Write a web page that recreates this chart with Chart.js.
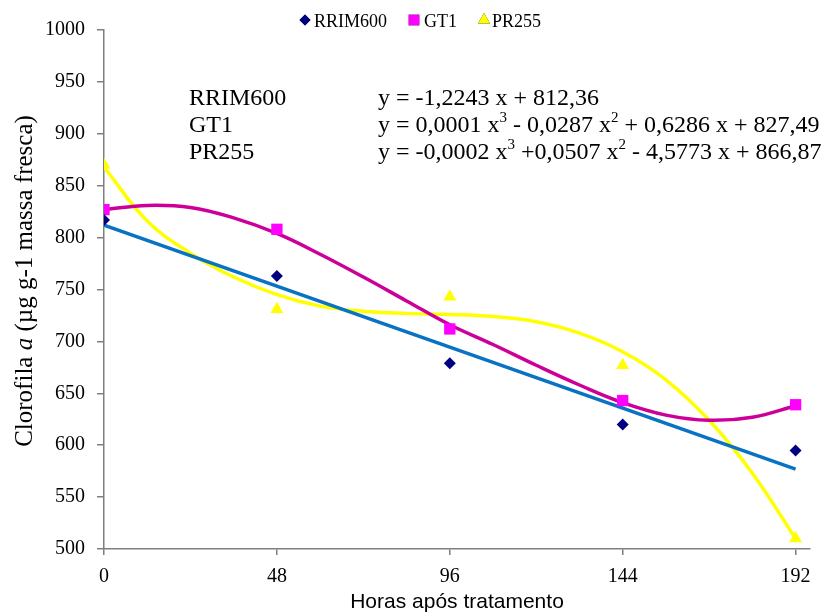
<!DOCTYPE html>
<html>
<head>
<meta charset="utf-8">
<script src="https://cdn.jsdelivr.net/npm/chart.js@4.4.1/dist/chart.umd.min.js"></script>
<style>
  html, body { margin: 0; padding: 0; background: #fff; }
  #wrap { width: 823px; height: 614px; position: relative; }
</style>
</head>
<body>
<div id="wrap"><canvas id="chart"></canvas></div>
<script>
// measured points
const hours = [0, 48, 96, 144, 192];
const rrim600 = [817, 763, 679, 620, 595];
const gt1 = [827, 808, 712, 643, 639];
const pr255 = [870, 731, 743, 677, 510];

// trend lines
const rrimTrendHours = [0, 192];
const rrimTrend = [812, 577];
const trendHours = [0, 12, 24, 36, 48, 60, 72, 84, 96, 108, 120, 132, 144, 156, 168, 180, 192];
const gt1Trend = [827, 831, 829, 819, 804, 784, 762, 739, 716, 697, 677, 658, 641, 629, 624, 627, 638];
const pr255Trend = [868, 816, 785, 762, 745, 734, 729, 727, 726, 724, 719, 708, 690, 663, 624, 573, 510];

const xTicks = [0, 48, 96, 144, 192];

const seriesNames = ["RRIM600", "GT1", "PR255"];
const markerColors = ["#000080", "#FF00FF", "#FFFF00"];
const markerStyles = ["rectRot", "rect", "triangle"];

const serif = "'Liberation Serif', 'Times New Roman', serif";

function pts(xs, ys) {
    return xs.map((x, i) => ({ x: x, y: ys[i] }));
}

//Legend, axis titles and the equations
const extras = {
    id: "extras",
    afterDraw(chart) {
        const ctx = chart.ctx;
        ctx.save();

        // legend
        ctx.font = "18px " + serif;
        ctx.fillStyle = "#000";
        ctx.textBaseline = "alphabetic";
        const items = [
            { mx: 305, tx: 314, r: 5.5 },
            { mx: 414, tx: 424, r: 7.5 },
            { mx: 484, tx: 492, r: 7 }
        ];
        items.forEach((it, i) => {
            Chart.helpers.drawPoint(ctx, {
                pointStyle: markerStyles[i],
                radius: it.r,
                rotation: 0,
                borderWidth: 0
            }, it.mx, 20);
            ctx.fillStyle = markerColors[i];
            ctx.fill();
            ctx.fillStyle = "#000";
            ctx.fillText(seriesNames[i], it.tx, 27);
        });

        // x title
        ctx.font = "21px 'Liberation Sans', Arial, sans-serif";
        ctx.textAlign = "center";
        ctx.textBaseline = "middle";
        ctx.fillText("Horas após tratamento", 457, 602);

        // y title with italic a
        ctx.translate(25, 281);
        ctx.rotate(-Math.PI / 2);
        const parts = [
            ["Clorofila ", "25px " + serif],
            ["a", "italic 25px " + serif],
            [" (µg g-1 massa fresca)", "25px " + serif]
        ];
        let total = 0;
        parts.forEach(p => { ctx.font = p[1]; total += ctx.measureText(p[0]).width; });
        let cx = -total / 2;
        ctx.textAlign = "left";
        parts.forEach(p => {
            ctx.font = p[1];
            ctx.fillText(p[0], cx, 0);
            cx += ctx.measureText(p[0]).width;
        });
        ctx.restore();

        // equations
        ctx.save();
        ctx.fillStyle = "#000";
        ctx.textBaseline = "alphabetic";
        ctx.textAlign = "left";
        const rows = [
            ["RRIM600", [["y = -1,2243 x + 812,36"]]],
            ["GT1", [["y = 0,0001 x"], ["3", 1], [" - 0,0287 x"], ["2", 1], [" + 0,6286 x + 827,49"]]],
            ["PR255", [["y = -0,0002 x"], ["3", 1], [" +0,0507 x"], ["2", 1], [" - 4,5773 x + 866,87"]]]
        ];
        rows.forEach((row, i) => {
            const base = 105 + i * 27;
            ctx.font = "24px " + serif;
            ctx.fillText(row[0], 189, base);
            let x = 378;
            row[1].forEach(seg => {
                if (seg[1]) {
                    ctx.font = "15px " + serif;
                    ctx.fillText(seg[0], x, base - 10);
                } else {
                    ctx.font = "24px " + serif;
                    ctx.fillText(seg[0], x, base);
                }
                x += ctx.measureText(seg[0]).width;
            });
        });
        ctx.restore();
    }
};

const axisGray = "#7f7f7f";

const chart = new Chart(document.getElementById("chart").getContext("2d"), {
    type: "scatter",
    data: {
        datasets: [
            {
                label: "RRIM600",
                data: pts(hours, rrim600),
                pointStyle: "rectRot",
                pointRadius: 6,
                backgroundColor: "#000080",
                borderWidth: 0
            },
            {
                label: "GT1",
                data: pts(hours, gt1),
                pointStyle: "rect",
                pointRadius: 8,
                backgroundColor: "#FF00FF",
                borderWidth: 0
            },
            {
                label: "PR255",
                data: pts(hours, pr255),
                pointStyle: "triangle",
                pointRadius: 7.5,
                backgroundColor: "#FFFF00",
                borderWidth: 0
            },
            {
                label: "RRIM600 trend",
                data: pts(rrimTrendHours, rrimTrend),
                showLine: true,
                pointRadius: 0,
                borderColor: "#0A72C2",
                borderWidth: 3.5
            },
            {
                label: "GT1 trend",
                data: pts(trendHours, gt1Trend),
                showLine: true,
                pointRadius: 0,
                borderColor: "#CC0099",
                borderWidth: 3.5,
                tension: 0.4
            },
            {
                label: "PR255 trend",
                data: pts(trendHours, pr255Trend),
                showLine: true,
                pointRadius: 0,
                borderColor: "#FFFF00",
                borderWidth: 3.5,
                tension: 0.4
            }
        ]
    },
    options: {
        responsive: true,
        maintainAspectRatio: false,
        animation: false,
        layout: { padding: { top: 30, right: 13, left: 0, bottom: 0 } },
        plugins: {
            legend: { display: false },
            tooltip: { enabled: false }
        },
        scales: {
            x: {
                type: "linear",
                min: 0,
                max: 196,
                afterBuildTicks: s => { s.ticks = xTicks.map(v => ({ value: v })); },
                afterFit: s => { s.height = 65; },
                ticks: {
                    padding: 10,
                    maxRotation: 0,
                    autoSkip: false,
                    color: "#000",
                    font: { family: serif, size: 20 },
                    callback: v => String(v)
                },
                grid: {
                    drawOnChartArea: false,
                    tickLength: 6,
                    color: axisGray,
                    lineWidth: 1.5
                },
                border: { color: axisGray, width: 1.5 }
            },
            y: {
                min: 500,
                max: 1000,
                afterFit: s => { s.width = 104; },
                ticks: {
                    stepSize: 50,
                    padding: 12,
                    color: "#000",
                    font: { family: serif, size: 20 },
                    callback: v => String(v)
                },
                grid: {
                    drawOnChartArea: false,
                    tickLength: 7,
                    color: axisGray,
                    lineWidth: 1.5
                },
                border: { color: axisGray, width: 1.5 }
            }
        }
    },
    plugins: [extras]
});
</script>
</body>
</html>
